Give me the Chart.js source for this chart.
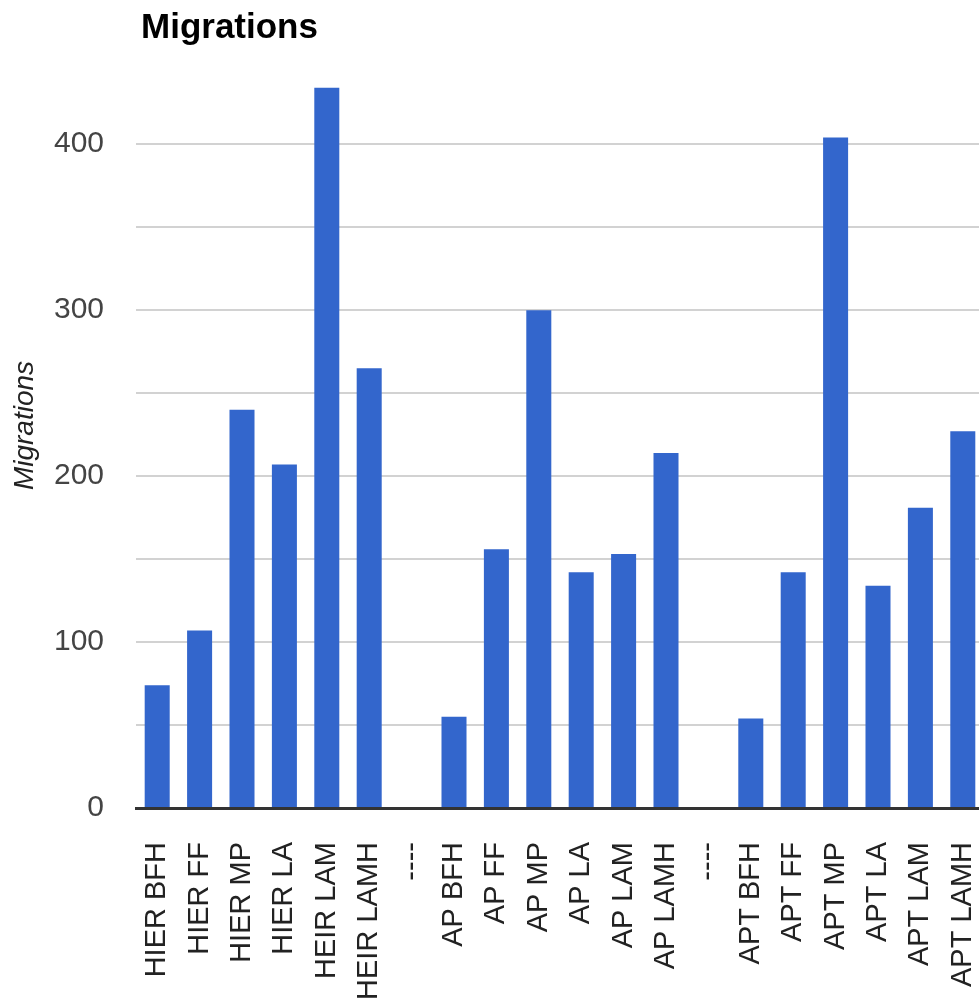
<!DOCTYPE html>
<html>
<head>
<meta charset="utf-8">
<title>Migrations</title>
<script src="https://cdn.jsdelivr.net/npm/chart.js@4/dist/chart.umd.min.js"></script>
<style>
  html, body { margin: 0; padding: 0; background: #fff; overflow: hidden; }
  #wrap { width: 990px; height: 1004px; }
</style>
</head>
<body>
<div id="wrap"><canvas id="migrations" width="990" height="1004"></canvas></div>
<script>
const labels = [
  'HIER BFH', 'HIER FF', 'HIER MP', 'HIER LA', 'HEIR LAM', 'HEIR LAMH', '----',
  'AP BFH', 'AP FF', 'AP MP', 'AP LA', 'AP LAM', 'AP LAMH', '----',
  'APT BFH', 'APT FF', 'APT MP', 'APT LA', 'APT LAM', 'APT LAMH',
];
const migrations = [
  74, 107, 240, 207, 434, 265, 0,
  55, 156, 300, 142, 153, 214, 0,
  54, 142, 404, 134, 181, 227,
];
const yTicks = [0, 100, 200, 300, 400];

const FONT = "'Liberation Sans', Arial, sans-serif";

// title sits over the left edge of the plot, not the canvas
const titlePlugin = {
  id: 'leftTitle',
  afterDraw(chart) {
    const { ctx, chartArea } = chart;
    ctx.save();
    ctx.font = `bold 35px ${FONT}`;
    ctx.fillStyle = '#000';
    ctx.textBaseline = 'alphabetic';
    ctx.fillText('Migrations', chartArea.left + 5, 38);
    ctx.restore();
  },
};

new Chart(document.getElementById('migrations'), {
  type: 'bar',
  data: {
    labels,
    datasets: [{
      label: 'Migrations',
      data: migrations,
      backgroundColor: '#3366cc',
      borderWidth: 0,
      barPercentage: 0.59,
      categoryPercentage: 1,
    }],
  },
  options: {
    responsive: false,
    animation: false,
    layout: { padding: { top: 43, right: 6, left: 0, bottom: 0 } },
    plugins: {
      legend: { display: false },
      tooltip: { enabled: false },
    },
    scales: {
      x: {
        z: 1,
        // fixed band under the plot for the upright labels
        afterFit(scale) {
          scale.height = 196;
          scale.paddingLeft = 0;
          scale.paddingRight = 0;
        },
        grid: { display: false, drawTicks: false },
        border: { display: true, color: '#333', width: 3 },
        ticks: {
          autoSkip: false,
          minRotation: 90,
          maxRotation: 90,
          padding: 34,
          color: '#222',
          font: { family: FONT, size: 29 },
        },
      },
      y: {
        min: 0,
        max: 461,
        afterFit(scale) {
          scale.width = 136;
          scale.paddingTop = 0;
          scale.paddingBottom = 0;
        },
        grid: {
          drawTicks: false,
          lineWidth: 2,
          color: (c) => (c.tick.value > 400 || c.tick.value === 0 ? 'rgba(0,0,0,0)' : '#d2d2d2'),
        },
        border: { display: false },
        ticks: {
          stepSize: 50,
          padding: 32,
          color: '#444',
          font: { family: FONT, size: 30 },
          callback: (v) => (yTicks.includes(v) ? v : ''),
        },
        title: {
          display: true,
          text: 'Migrations',
          color: '#222',
          padding: { top: 8, bottom: 4 },
          font: { family: FONT, size: 28, style: 'italic' },
        },
      },
    },
  },
  plugins: [titlePlugin],
});
</script>
</body>
</html>
